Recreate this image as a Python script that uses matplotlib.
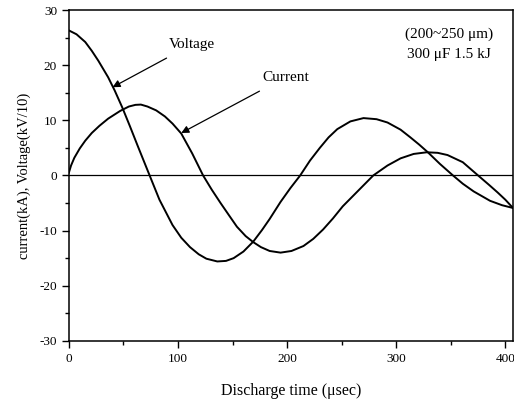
import matplotlib
matplotlib.use("Agg")
import matplotlib.pyplot as plt
from matplotlib.ticker import MultipleLocator

plt.rcParams["font.family"] = ["Liberation Serif", "DejaVu Serif"]
plt.rcParams["axes.unicode_minus"] = False

# values (time in usec)
volt_t = [0, 7, 15, 21, 27, 36, 42, 49, 56, 63, 74, 83, 95, 103, 111, 119, 126,
          136, 144, 151, 160, 169, 177, 184, 194, 203, 212, 221, 230, 238, 246,
          258, 270, 282, 292, 304, 313, 321, 329, 340, 352, 361, 371, 386, 397, 407]
volt_v = [26.3, 25.6, 24.2, 22.6, 20.8, 17.8, 15.4, 12.3, 8.9, 5.4, 0.0, -4.4,
          -9.0, -11.3, -13.0, -14.3, -15.1, -15.6, -15.5, -15.0, -13.8, -12.0,
          -9.9, -7.9, -4.8, -2.3, 0.0, 2.7, 5.0, 6.9, 8.4, 9.8, 10.4, 10.2, 9.6,
          8.3, 6.9, 5.6, 4.2, 2.1, 0.0, -1.5, -2.9, -4.6, -5.4, -5.9]

curr_t = [0, 2, 5, 10, 15, 21, 28, 36, 47, 55, 61, 66, 72, 80, 88, 95, 103,
          113, 123, 131, 139, 147, 154, 162, 169, 176, 184, 194, 204, 215, 224,
          233, 242, 251, 265, 279, 292, 304, 316, 328, 338, 347, 361, 375, 385,
          393, 400, 407]
curr_i = [0.5, 1.8, 3.2, 4.9, 6.3, 7.7, 9.0, 10.3, 11.7, 12.5, 12.8, 12.85,
          12.5, 11.8, 10.7, 9.4, 7.6, 4.0, 0.0, -2.6, -5.0, -7.3, -9.3, -11.0,
          -12.1, -13.0, -13.7, -14.0, -13.7, -12.8, -11.5, -9.8, -7.8, -5.6,
          -2.8, 0.0, 1.8, 3.1, 3.9, 4.2, 4.1, 3.7, 2.4, 0.0, -1.7, -3.1, -4.4,
          -5.9]

fig = plt.figure(figsize=(5.14, 4.01), dpi=100)
ax = fig.add_axes([0.134, 0.150, 0.864, 0.825])

ax.axhline(0, color="black", lw=0.9)
ax.plot(volt_t, volt_v, color="black", lw=1.4)
ax.plot(curr_t, curr_i, color="black", lw=1.4)

ax.set_xlim(0, 407)
ax.set_ylim(-30, 30)
ax.xaxis.set_major_locator(MultipleLocator(100))
ax.xaxis.set_minor_locator(MultipleLocator(50))
ax.yaxis.set_major_locator(MultipleLocator(10))
ax.yaxis.set_minor_locator(MultipleLocator(5))
ax.tick_params(which="major", direction="out", length=5, width=1, labelsize=9.5)
ax.tick_params(which="minor", direction="out", length=3, width=1)
for s in ax.spines.values():
    s.set_linewidth(1.1)

ax.set_xlabel("Discharge time (\u03bcsec)", fontsize=11.5, labelpad=13)
ax.set_ylabel("current(kA), Voltage(kV/10)", fontsize=10.5, labelpad=6)

ax.annotate("Voltage", xy=(40, 16.0), xytext=(92, 23.8), fontsize=11,
            va="center", ha="left",
            arrowprops=dict(arrowstyle="-|>", color="black", lw=0.9,
                            shrinkA=7, shrinkB=0))
ax.annotate("Current", xy=(103, 7.7), xytext=(177, 17.8), fontsize=11,
            va="center", ha="left",
            arrowprops=dict(arrowstyle="-|>", color="black", lw=0.9,
                            shrinkA=7, shrinkB=0))
ax.text(348, 25.6, "(200~250 \u03bcm)", fontsize=11, ha="center", va="center")
ax.text(348, 22.0, "300 \u03bcF 1.5 kJ", fontsize=11, ha="center", va="center")

fig.savefig("out.png", dpi=100)
